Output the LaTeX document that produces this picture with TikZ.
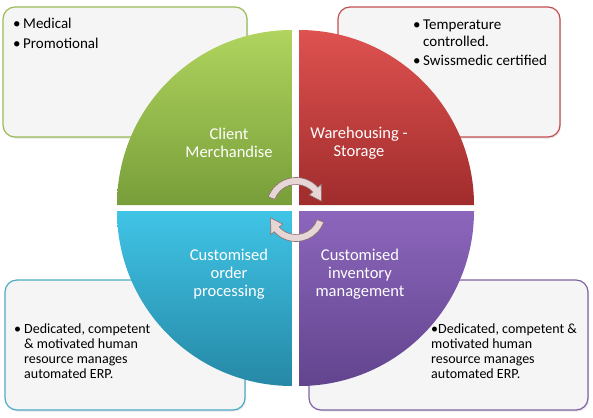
\documentclass[tikz,border=0pt]{standalone}
\usepackage{fontspec}
\setmainfont{Carlito}
\usetikzlibrary{calc,shadows}
\definecolor{qgreenT}{RGB}{176,212,94}
\definecolor{qgreenB}{RGB}{120,158,58}
\definecolor{qredT}{RGB}{222,82,80}
\definecolor{qredB}{RGB}{160,44,44}
\definecolor{qcyanT}{RGB}{64,196,230}
\definecolor{qcyanB}{RGB}{38,136,166}
\definecolor{qpurT}{RGB}{140,102,188}
\definecolor{qpurB}{RGB}{98,68,142}
\definecolor{bgreen}{RGB}{155,187,89}
\definecolor{bred}{RGB}{192,80,77}
\definecolor{bcyan}{RGB}{75,172,198}
\definecolor{bpur}{RGB}{128,100,162}
\definecolor{boxfill}{RGB}{245,245,245}
\definecolor{arrfill}{RGB}{230,214,214}
\definecolor{arredge}{RGB}{140,108,108}
\begin{document}
\begin{tikzpicture}[x=1pt,y=-1pt,
  infobox/.style={rounded corners=12pt, fill=boxfill, line width=1.2pt,
    drop shadow={opacity=0.2,shadow xshift=1pt,shadow yshift=-1.5pt}},
  qlabel/.style={text=white, align=center, font=\fontsize{16.5}{18}\selectfont, inner sep=0pt},
  btext/.style={anchor=base west, inner sep=0pt, text=black},
  cyc/.style={fill=arrfill, draw=arredge, line width=0.6pt}]
\useasboundingbox (0,0) rectangle (593,417);
% info boxes
\draw[infobox, draw=bgreen] (3,7) rectangle (247,137);
\draw[infobox, draw=bred] (338,7) rectangle (560,137);
\draw[infobox, draw=bcyan] (5,280) rectangle (245,410);
\draw[infobox, draw=bpur] (309,280) rectangle (588,410);
% quadrants
\shade[top color=qgreenT, bottom color=qgreenB] (292,205) -- (117,205) arc[start angle=180, end angle=270, radius=175] -- cycle;
\shade[top color=qredT, bottom color=qredB] (299,205) -- (299,30) arc[start angle=270, end angle=360, radius=175] -- cycle;
\shade[top color=qcyanT, bottom color=qcyanB] (292,211) -- (292,386) arc[start angle=90, end angle=180, radius=175] -- cycle;
\shade[top color=qpurT, bottom color=qpurB] (299,211) -- (474,211) arc[start angle=0, end angle=90, radius=175] -- cycle;
% cycle arrows
\coordinate (c1) at (296,207);
\coordinate (c2) at (296,212);
\draw[cyc] ($(c1)+(200:29.5)$) arc[start angle=200,end angle=318,radius=29.5] -- ($(c1)+(318:34)$) -- ($(c1)+(347:26)$) -- ($(c1)+(318:18)$) -- ($(c1)+(318:22.5)$) arc[start angle=318,end angle=200,radius=22.5] -- cycle;
\draw[cyc] ($(c2)+(20:29.5)$) arc[start angle=20,end angle=138,radius=29.5] -- ($(c2)+(138:34)$) -- ($(c2)+(167:26)$) -- ($(c2)+(138:18)$) -- ($(c2)+(138:22.5)$) arc[start angle=138,end angle=20,radius=22.5] -- cycle;
% quadrant labels
\node[qlabel] (l1) at (229,143) {Client\\Merchandise};
\node[qlabel] (l2) at (359,143) {Warehousing -\\Storage};
\node[qlabel] (l3) at (229,274) {Customised\\order\\processing};
\node[qlabel] (l4) at (360,274) {Customised\\inventory\\management};
% box texts
\node[btext] (t1) at (13,29) {\fontsize{15}{20}\selectfont\begin{tabular}[t]{@{}p{10pt}@{}l@{}}\textbullet & Medical\\ \textbullet & Promotional\end{tabular}};
\node[btext] (t2) at (413,30) {\fontsize{15}{16.5}\selectfont\begin{tabular}[t]{@{}p{10pt}@{}l@{}}\textbullet & Temperature\\ & controlled.\\[2.5pt] \textbullet & Swissmedic certified\end{tabular}};
\node[btext] (t3) at (14,333) {\fontsize{14}{15}\selectfont\begin{tabular}[t]{@{}p{10pt}@{}l@{}}\textbullet & Dedicated, competent\\ & \& motivated human\\ & resource manages\\ & automated ERP.\end{tabular}};
\node[btext] (t4) at (431,333) {\fontsize{14}{15}\selectfont\begin{tabular}[t]{@{}l@{}}\textbullet Dedicated, competent \&\\ motivated human\\ resource manages\\ automated ERP.\end{tabular}};
\end{tikzpicture}
\end{document}
